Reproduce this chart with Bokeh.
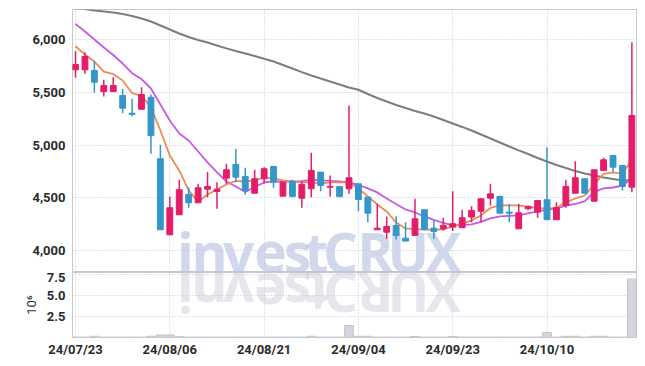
import math
from bokeh.plotting import figure
from bokeh.models import Range1d, FixedTicker, NumeralTickFormatter
from bokeh.layouts import column
from bokeh.embed import file_html
from bokeh.resources import INLINE
from bokeh.core.properties import value

dates = ["24/07/23", "24/07/24", "24/07/25", "24/07/26", "24/07/29", "24/07/30", "24/07/31", "24/08/01",
         "24/08/02", "24/08/05", "24/08/06", "24/08/07", "24/08/08", "24/08/09", "24/08/12", "24/08/13",
         "24/08/14", "24/08/16", "24/08/19", "24/08/20", "24/08/21", "24/08/22", "24/08/23", "24/08/26",
         "24/08/27", "24/08/28", "24/08/29", "24/08/30", "24/09/02", "24/09/03", "24/09/04", "24/09/05",
         "24/09/06", "24/09/09", "24/09/10", "24/09/11", "24/09/12", "24/09/13", "24/09/19", "24/09/20",
         "24/09/23", "24/09/24", "24/09/25", "24/09/26", "24/09/27", "24/09/30", "24/10/02", "24/10/04",
         "24/10/07", "24/10/08", "24/10/10", "24/10/11", "24/10/14", "24/10/15", "24/10/16", "24/10/17",
         "24/10/18", "24/10/21", "24/10/22", "24/10/23"]

opens = [5714, 5714, 5708, 5508, 5508, 5470, 5302, 5340, 5454, 4870,
         4148, 4338, 4531, 4452, 4581, 4559, 4686, 4816, 4702, 4543,
         4680, 4797, 4515, 4654, 4496, 4585, 4743, 4600, 4607, 4585,
         4632, 4505, 4196, 4173, 4237, 4116, 4142, 4386, 4211, 4205,
         4221, 4215, 4316, 4372, 4496, 4512, 4363, 4205, 4395, 4363,
         4481, 4291, 4427, 4543, 4680, 4467, 4759, 4901, 4806, 4600]
highs = [5891, 5881, 5796, 5619, 5644, 5534, 5439, 5549, 5480, 5003,
         4512, 4670, 4600, 4632, 4743, 4648, 4822, 4965, 4784, 4765,
         4790, 4797, 4648, 4670, 4654, 4927, 4743, 4711, 4607, 5376,
         4632, 4505, 4443, 4322, 4325, 4268, 4490, 4386, 4284, 4310,
         4562, 4386, 4420, 4490, 4632, 4521, 4443, 4443, 4427, 4474,
         4980, 4458, 4670, 4847, 4680, 4765, 4879, 4901, 4806, 5976]
lows = [5638, 5676, 5496, 5461, 5508, 5302, 5271, 5340, 4917, 4196,
        4148, 4338, 4405, 4452, 4505, 4395, 4632, 4648, 4531, 4543,
        4632, 4594, 4515, 4505, 4405, 4505, 4562, 4512, 4505, 4537,
        4372, 4268, 4196, 4110, 4104, 4088, 4142, 4196, 4110, 4189,
        4183, 4215, 4268, 4268, 4427, 4353, 4268, 4205, 4386, 4310,
        4291, 4291, 4405, 4543, 4543, 4467, 4759, 4743, 4569, 4553]
closes = [5765, 5841, 5597, 5565, 5565, 5350, 5290, 5480, 5089, 4196,
          4405, 4576, 4452, 4594, 4607, 4581, 4765, 4695, 4569, 4680,
          4775, 4648, 4648, 4512, 4626, 4759, 4616, 4607, 4512, 4689,
          4483, 4353, 4211, 4227, 4142, 4088, 4300, 4196, 4180, 4237,
          4253, 4310, 4379, 4490, 4537, 4353, 4353, 4357, 4417, 4474,
          4291, 4405, 4607, 4689, 4543, 4765, 4860, 4790, 4607, 5281]

ma_short = [5938, 5860, 5793, 5698, 5674, 5613, 5494, 5470, 5357, 5138,
            4901, 4759, 4569, 4464, 4531, 4578, 4626, 4659, 4654, 4664,
            4692, 4683, 4664, 4654, 4645, 4645, 4635, 4645, 4645, 4645,
            4588, 4512, 4436, 4370, 4265, 4208, 4199, 4199, 4194, 4199,
            4227, 4251, 4284, 4332, 4403, 4427, 4427, 4427, 4412, 4403,
            4395, 4405, 4455, 4493, 4521, 4626, 4727, 4740, 4727, 4860]
ma_mid = [6151, 6078, 6002, 5926, 5855, 5774, 5682, 5627, 5537, 5385,
          5233, 5110, 5043, 4939, 4835, 4740, 4654, 4607, 4555, 4602,
          4645, 4654, 4654, 4654, 4657, 4670, 4664, 4659, 4654, 4645,
          4621, 4588, 4550, 4493, 4441, 4389, 4360, 4322, 4289, 4260,
          4237, 4241, 4246, 4270, 4303, 4322, 4327, 4332, 4351, 4370,
          4384, 4398, 4424, 4441, 4465, 4555, 4588, 4597, 4616, 4683]
ma_long = [6300, 6291, 6277, 6268, 6258, 6244, 6225, 6201, 6173, 6135,
           6097, 6059, 6026, 5997, 5973, 5945, 5918, 5893, 5869, 5845,
           5819, 5793, 5760, 5727, 5693, 5660, 5632, 5603, 5575, 5546,
           5525, 5485, 5447, 5413, 5380, 5352, 5323, 5300, 5271, 5238,
           5205, 5172, 5138, 5100, 5062, 5024, 4986, 4949, 4915, 4877,
           4844, 4811, 4782, 4754, 4730, 4711, 4692, 4678, 4664, 4669]

volume_m = [0.05, 0.05, 0.15, 0.05, 0.05, 0.05, 0.05, 0.05, 0.15, 0.3,
            0.3, 0.1, 0.05, 0.05, 0.05, 0.05, 0.05, 0.05, 0.05, 0.05,
            0.05, 0.05, 0.05, 0.05, 0.05, 0.15, 0.05, 0.05, 0.05, 1.43,
            0.15, 0.15, 0.05, 0.05, 0.05, 0.05, 0.12, 0.05, 0.05, 0.05,
            0.12, 0.05, 0.05, 0.05, 0.05, 0.05, 0.05, 0.05, 0.05, 0.05,
            0.6, 0.05, 0.15, 0.15, 0.05, 0.15, 0.15, 0.05, 0.05, 6.95]

price_ticks = [4000, 4500, 5000, 5500, 6000]
volume_ticks = [2.5, 5.0, 7.5]
date_tick_idx = [0, 10, 20, 30, 40, 50]

watermark = "investCRUX"
watermark_pos = [11.66, 14.21, 17.29, 20.68, 23.54, 25.56, 28.1, 31.8, 35.3, 39.0]

UP = "#e41d6a"
DOWN = "#3597c9"
GRID = "#c3c7dc"
FONT = "Roboto"

idx = list(range(len(dates)))
colors = [UP if c >= o else DOWN for o, c in zip(opens, closes)]
tops = [max(o, c) for o, c in zip(opens, closes)]
bottoms = [min(o, c) for o, c in zip(opens, closes)]

xr = Range1d(-0.32, 59.49)
price_lo, price_hi = 3790, 6287
vol_hi = 7.74
PRICE_FRAME_H = 263
VOL_FRAME_H = 65
WM_SIZE = 55
MID_TO_BASE = 21      # px from "middle" anchor to the alphabetic baseline
CAP_H = 0.714 * WM_SIZE

def style(fig):
    fig.outline_line_color = "#c8c8c8"
    fig.outline_line_width = 1
    for g in (fig.xgrid, fig.ygrid):
        g.grid_line_color = GRID
        g.grid_line_dash = "1 2"
        g.grid_line_width = 1
    for ax in (fig.xaxis, fig.yaxis):
        ax.axis_line_color = None
        ax.major_tick_line_color = None
        ax.minor_tick_line_color = None
        ax.major_tick_out = 0
        ax.major_tick_in = 0
        ax.minor_tick_out = 0
        ax.minor_tick_in = 0
        ax.major_label_text_font = FONT
        ax.major_label_text_font_size = "13px"
        ax.major_label_text_font_style = "bold"
        ax.major_label_text_color = "#2b2b2b"
    fig.yaxis.major_label_standoff = 7
    fig.xaxis.ticker = FixedTicker(ticks=date_tick_idx)
    fig.background_fill_color = "white"
    fig.border_fill_color = "white"

p = figure(width=640, height=9 + PRICE_FRAME_H, x_range=xr, y_range=Range1d(price_lo, price_hi),
           output_backend="svg", toolbar_location=None,
           min_border_left=72, min_border_right=4, min_border_top=9, min_border_bottom=0)
style(p)
p.xaxis.visible = False
p.yaxis.ticker = FixedTicker(ticks=price_ticks)
p.yaxis.formatter = NumeralTickFormatter(format="0,0")

# watermark (baseline on the panel boundary)
price_per_px = (price_hi - price_lo) / PRICE_FRAME_H
p.text(x=watermark_pos, y=[price_lo + MID_TO_BASE * price_per_px] * len(watermark), text=list(watermark),
       text_font=value("Open Sans"), text_font_style="bold", text_font_size=f"{WM_SIZE}px",
       text_align="center", text_baseline="middle",
       text_color="#b8c3e0", text_alpha=0.65, level="underlay")

p.line(idx, ma_long, line_color="#7d7d7d", line_width=2)
p.line(idx, ma_mid, line_color="#c958e8", line_width=1.8)
p.line(idx, ma_short, line_color="#ee8a55", line_width=1.8)
p.segment(x0=idx, y0=highs, x1=idx, y1=lows, line_color=colors, line_width=1.5)
p.vbar(x=idx, top=tops, bottom=bottoms, width=0.62, fill_color=colors, line_color=colors, line_width=1)

v = figure(width=640, height=VOL_FRAME_H + 25, x_range=xr, y_range=Range1d(0, vol_hi),
           output_backend="svg", toolbar_location=None,
           min_border_left=72, min_border_right=4, min_border_top=0, min_border_bottom=25)
style(v)
v.yaxis.ticker = FixedTicker(ticks=volume_ticks)
v.yaxis.formatter = NumeralTickFormatter(format="0.0")
v.yaxis.axis_label = "10\u2076"
v.yaxis.axis_label_text_font = FONT
v.yaxis.axis_label_text_font_style = "normal"
v.yaxis.axis_label_text_font_size = "13px"
v.yaxis.axis_label_text_color = "#333333"
v.yaxis.axis_label_standoff = 5
v.xaxis.major_label_overrides = {i: dates[i] for i in date_tick_idx}
v.xaxis.major_label_standoff = 4

# mirrored reflection of the watermark
vol_per_px = vol_hi / VOL_FRAME_H
refl_y = [vol_hi - (CAP_H - MID_TO_BASE) * vol_per_px if ch == "C" else vol_hi - MID_TO_BASE * vol_per_px
          for ch in watermark]
refl_a = [0 if ch == "C" else math.pi for ch in watermark]
v.text(x=watermark_pos, y=refl_y, text=list(watermark), angle=refl_a,
       text_font=value("Open Sans"), text_font_style="bold", text_font_size=f"{WM_SIZE}px",
       text_align="center", text_baseline="middle",
       text_color="#c8c8d8", text_alpha=0.45, level="underlay")

v.vbar(x=idx, top=volume_m, width=0.92, fill_color="#d5d5de", line_color="#c4c4cc", line_width=1)

layout = column(p, v)
open("out.html", "w").write(file_html(layout, INLINE))
